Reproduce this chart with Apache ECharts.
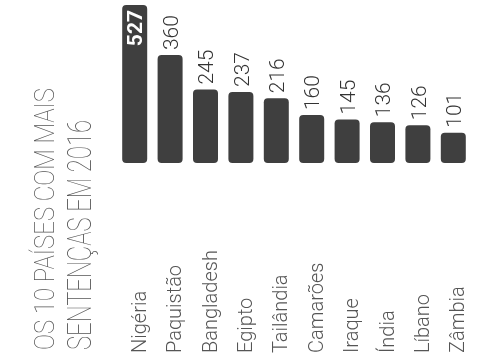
<!DOCTYPE html>
<html>
<head>
<meta charset="utf-8">
<script src="https://cdn.jsdelivr.net/npm/echarts@6/dist/echarts.min.js"></script>
<style>
  html, body { margin: 0; padding: 0; background: #fff; }
  #chart { width: 497px; height: 362px; }
</style>
</head>
<body>
<div id="chart"></div>
<script>
// Countries with the most death sentences in 2016
const countries = ['Nigéria', 'Paquistão', 'Bangladesh', 'Egipto', 'Tailândia',
                   'Camarões', 'Iraque', 'Índia', 'Líbano', 'Zâmbia'];
const sentences = [527, 360, 245, 237, 216, 160, 145, 136, 126, 101];
const titleLines = ['OS 10 PAÍSES COM MAIS', 'SENTENÇAS EM 2016'];

const chart = echarts.init(document.getElementById('chart'), null, { renderer: 'canvas' });

// Condensed thin title: measure the text, then squeeze it along its length.
// The line box is bottom-aligned, so the anchor sits on the descent line.
const measureCtx = document.createElement('canvas').getContext('2d');
function titleText(text, fontSize, descentX, startY, length) {
  measureCtx.font = '100 ' + fontSize + 'px Roboto';
  const w = measureCtx.measureText(text).width;
  return {
    type: 'text',
    x: descentX,
    y: startY,
    rotation: Math.PI / 2,
    scaleX: length / w,
    scaleY: 1,
    style: {
      text: text,
      x: 0,
      y: 0,
      fontFamily: 'Roboto',
      fontWeight: 100,
      fontSize: fontSize,
      fill: '#555555',
      align: 'left',
      verticalAlign: 'bottom',
      textAlign: 'left',
      textVerticalAlign: 'bottom'
    }
  };
}

const seriesData = sentences.map((v, i) => {
  if (i === 0) {
    return {
      value: v,
      label: {
        position: 'insideTop',
        distance: 5,
        align: 'right',
        color: '#ffffff',
        fontWeight: 'bold'
      }
    };
  }
  return v;
});

chart.setOption({
  animation: false,
  grid: { left: 117, right: 26, top: 5, bottom: 199, containLabel: false },
  xAxis: {
    type: 'category',
    data: countries,
    axisLine: { show: false },
    axisTick: { show: false },
    axisLabel: {
      rotate: 90,
      align: 'left',
      verticalAlign: 'top',
      lineHeight: 12,
      margin: 190,
      fontFamily: 'Roboto',
      fontWeight: 300,
      fontSize: 20,
      color: '#555555',
      interval: 0
    }
  },
  yAxis: {
    type: 'value',
    min: 0,
    max: 527,
    show: false,
    splitLine: { show: false }
  },
  series: [{
    type: 'bar',
    data: seriesData,
    barWidth: 25,
    itemStyle: { color: '#3f3f3f', borderRadius: 4 },
    label: {
      show: true,
      position: 'top',
      distance: 5,
      rotate: 90,
      align: 'left',
      verticalAlign: 'top',
      lineHeight: 5,
      fontFamily: 'Roboto',
      fontWeight: 300,
      fontSize: 21,
      color: '#333333'
    }
  }],
  graphic: [
    titleText(titleLines[0], 28, 61, 350, 262),
    titleText(titleLines[1], 33, 99, 350, 230)
  ]
});
</script>
</body>
</html>
